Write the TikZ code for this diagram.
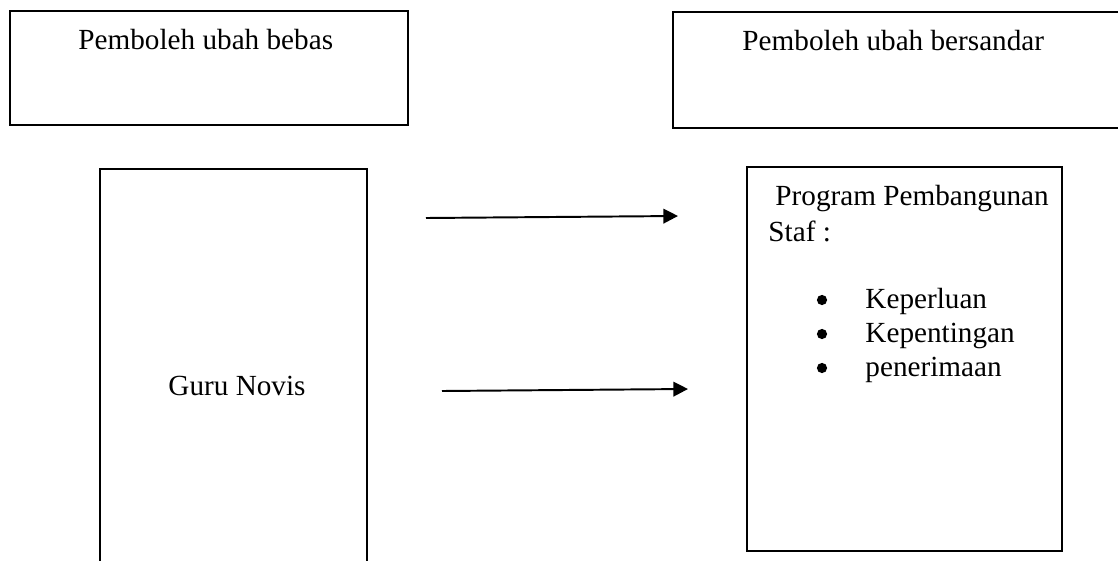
\documentclass[tikz,border=0pt]{standalone}
\usepackage{fontspec}
\setmainfont{Liberation Serif}
\usetikzlibrary{arrows.meta}

\begin{document}
\begin{tikzpicture}[x=0.411pt,y=-0.411pt,
  kotak/.style={line width=0.8pt},
  teks/.style={anchor=base west,inner sep=0pt,font=\fontsize{12pt}{14pt}\selectfont},
  titik/.style={circle,fill,inner sep=0pt,minimum size=4.2pt},
  anak/.style={-{Triangle[length=6pt,width=6pt]},line width=0.8pt}]
\useasboundingbox (0,0) rectangle (1118,560);

\draw [kotak] (10,11) rectangle (408,125);
\draw [kotak] (673,12) rectangle (1130,128);
\draw [kotak] (100,169) rectangle (367,575);
\draw [kotak] (747,167) rectangle (1062,551);

\node [teks] (bebas) at (78,49) {Pemboleh ubah bebas};
\node [teks] (sandar) at (742,50) {Pemboleh ubah bersandar};
\node [teks] (guru) at (168,395) {Guru Novis};

\node [teks] (program) at (775,205) {Program Pembangunan};
\node [teks] (staf) at (768,241) {Staf :};
\node [titik] (t1) at (822,300) {};
\node [titik] (t2) at (822,334) {};
\node [titik] (t3) at (822,368) {};
\node [teks] (perlu) at (865,308) {Keperluan};
\node [teks] (penting) at (865,342) {Kepentingan};
\node [teks] (terima) at (865,376) {penerimaan};

\coordinate (a1) at (426,218);
\coordinate (a2) at (678,216);
\coordinate (b1) at (442,391);
\coordinate (b2) at (688,389);
\draw [anak] (a1) -- (a2);
\draw [anak] (b1) -- (b2);
\end{tikzpicture}
\end{document}
